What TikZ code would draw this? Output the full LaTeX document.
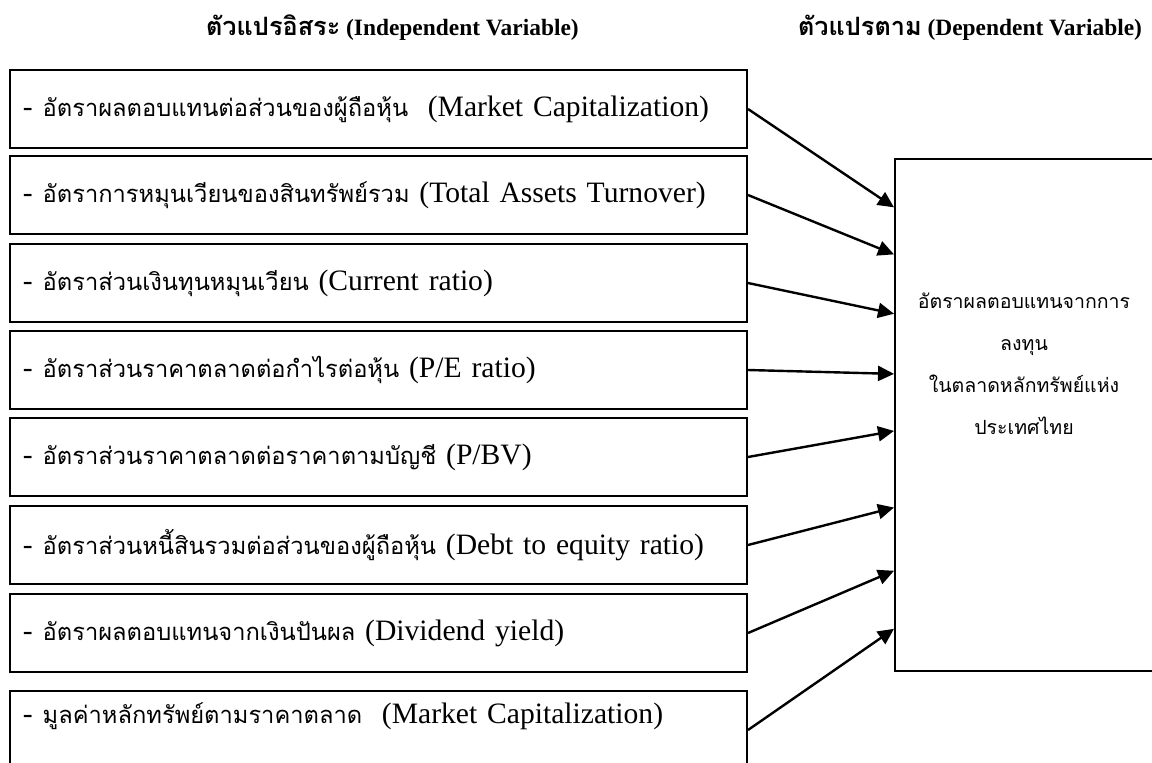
\documentclass[tikz,border=0pt]{standalone}
\usepackage{fontspec}
\setmainfont{Liberation Serif}
\newfontfamily\thaifont[Script=Thai,Scale=0.80]{Loma}
\newfontfamily\thaihead[Script=Thai,Scale=1.08]{Loma}
\usetikzlibrary{arrows.meta,calc}

\newcommand{\thai}[1]{{\thaifont #1}}

\begin{document}
\begin{tikzpicture}[x=0.5pt,y=-0.5pt,font=\fontsize{14.8}{18}\selectfont,
	varbox/.style={draw,line width=1pt,anchor=north west,minimum width=368.5pt,minimum height=39pt,
		inner xsep=6.5pt,inner ysep=0pt,text width=355.5pt,align=left},
	heading/.style={font=\fontsize{11.7}{14}\selectfont\bfseries},
	link/.style={line width=1.2pt,-{Triangle[length=8pt,width=7.5pt]}}]
			\useasboundingbox (0,0) rectangle (1152,762);
			\clip (0,0) rectangle (1152,762);
			% headings
			\node[heading,anchor=west] (indep) at (199,28) {{\thaihead ตัวแปรอิสระ} (Independent Variable)};
			\node[heading,anchor=east] (dep) at (1149,28) {{\thaihead ตัวแปรตาม} (Dependent Variable)};
			% independent variables
			\node[varbox] (v1) at (9,69) {- \thai{อัตราผลตอบแทนต่อส่วนของผู้ถือหุ้น}\ \ (Market Capitalization)};
			\node[varbox] (v2) at (9,155) {- \thai{อัตราการหมุนเวียนของสินทรัพย์รวม} (Total Assets Turnover)};
			\node[varbox] (v3) at (9,243) {- \thai{อัตราส่วนเงินทุนหมุนเวียน} (Current ratio)};
			\node[varbox] (v4) at (9,330) {- \thai{อัตราส่วนราคาตลาดต่อกำไรต่อหุ้น} (P/E ratio)};
			\node[varbox] (v5) at (9,417) {- \thai{อัตราส่วนราคาตลาดต่อราคาตามบัญชี} (P/BV)};
			\node[varbox] (v6) at (9,505) {- \thai{อัตราส่วนหนี้สินรวมต่อส่วนของผู้ถือหุ้น} (Debt to equity ratio)};
			\node[varbox] (v7) at (9,593) {- \thai{อัตราผลตอบแทนจากเงินปันผล} (Dividend yield)};
			\node[varbox,text depth=17pt] (v8) at (9,690) {- \thai{มูลค่าหลักทรัพย์ตามราคาตลาด}\ \ (Market Capitalization)};
			% dependent variable
			\node[draw,line width=1pt,anchor=north west,minimum width=130pt,minimum height=256pt] (dv) at (894,158) {};
			\node[align=center,font=\thaifont\fontsize{12.2}{21}\selectfont] (dvtext) at (1024,364)
				{อัตราผลตอบแทนจากการ\\ลงทุน\\ในตลาดหลักทรัพย์แห่ง\\ประเทศไทย};
			% arrows
			\foreach \i/\f in {1/0.096,2/0.1875,3/0.303,4/0.42,5/0.531,6/0.68,7/0.803,8/0.916}
				\draw[link] (v\i.east) -- ($(dv.north west)!\f!(dv.south west)$);
		\end{tikzpicture}
\end{document}
